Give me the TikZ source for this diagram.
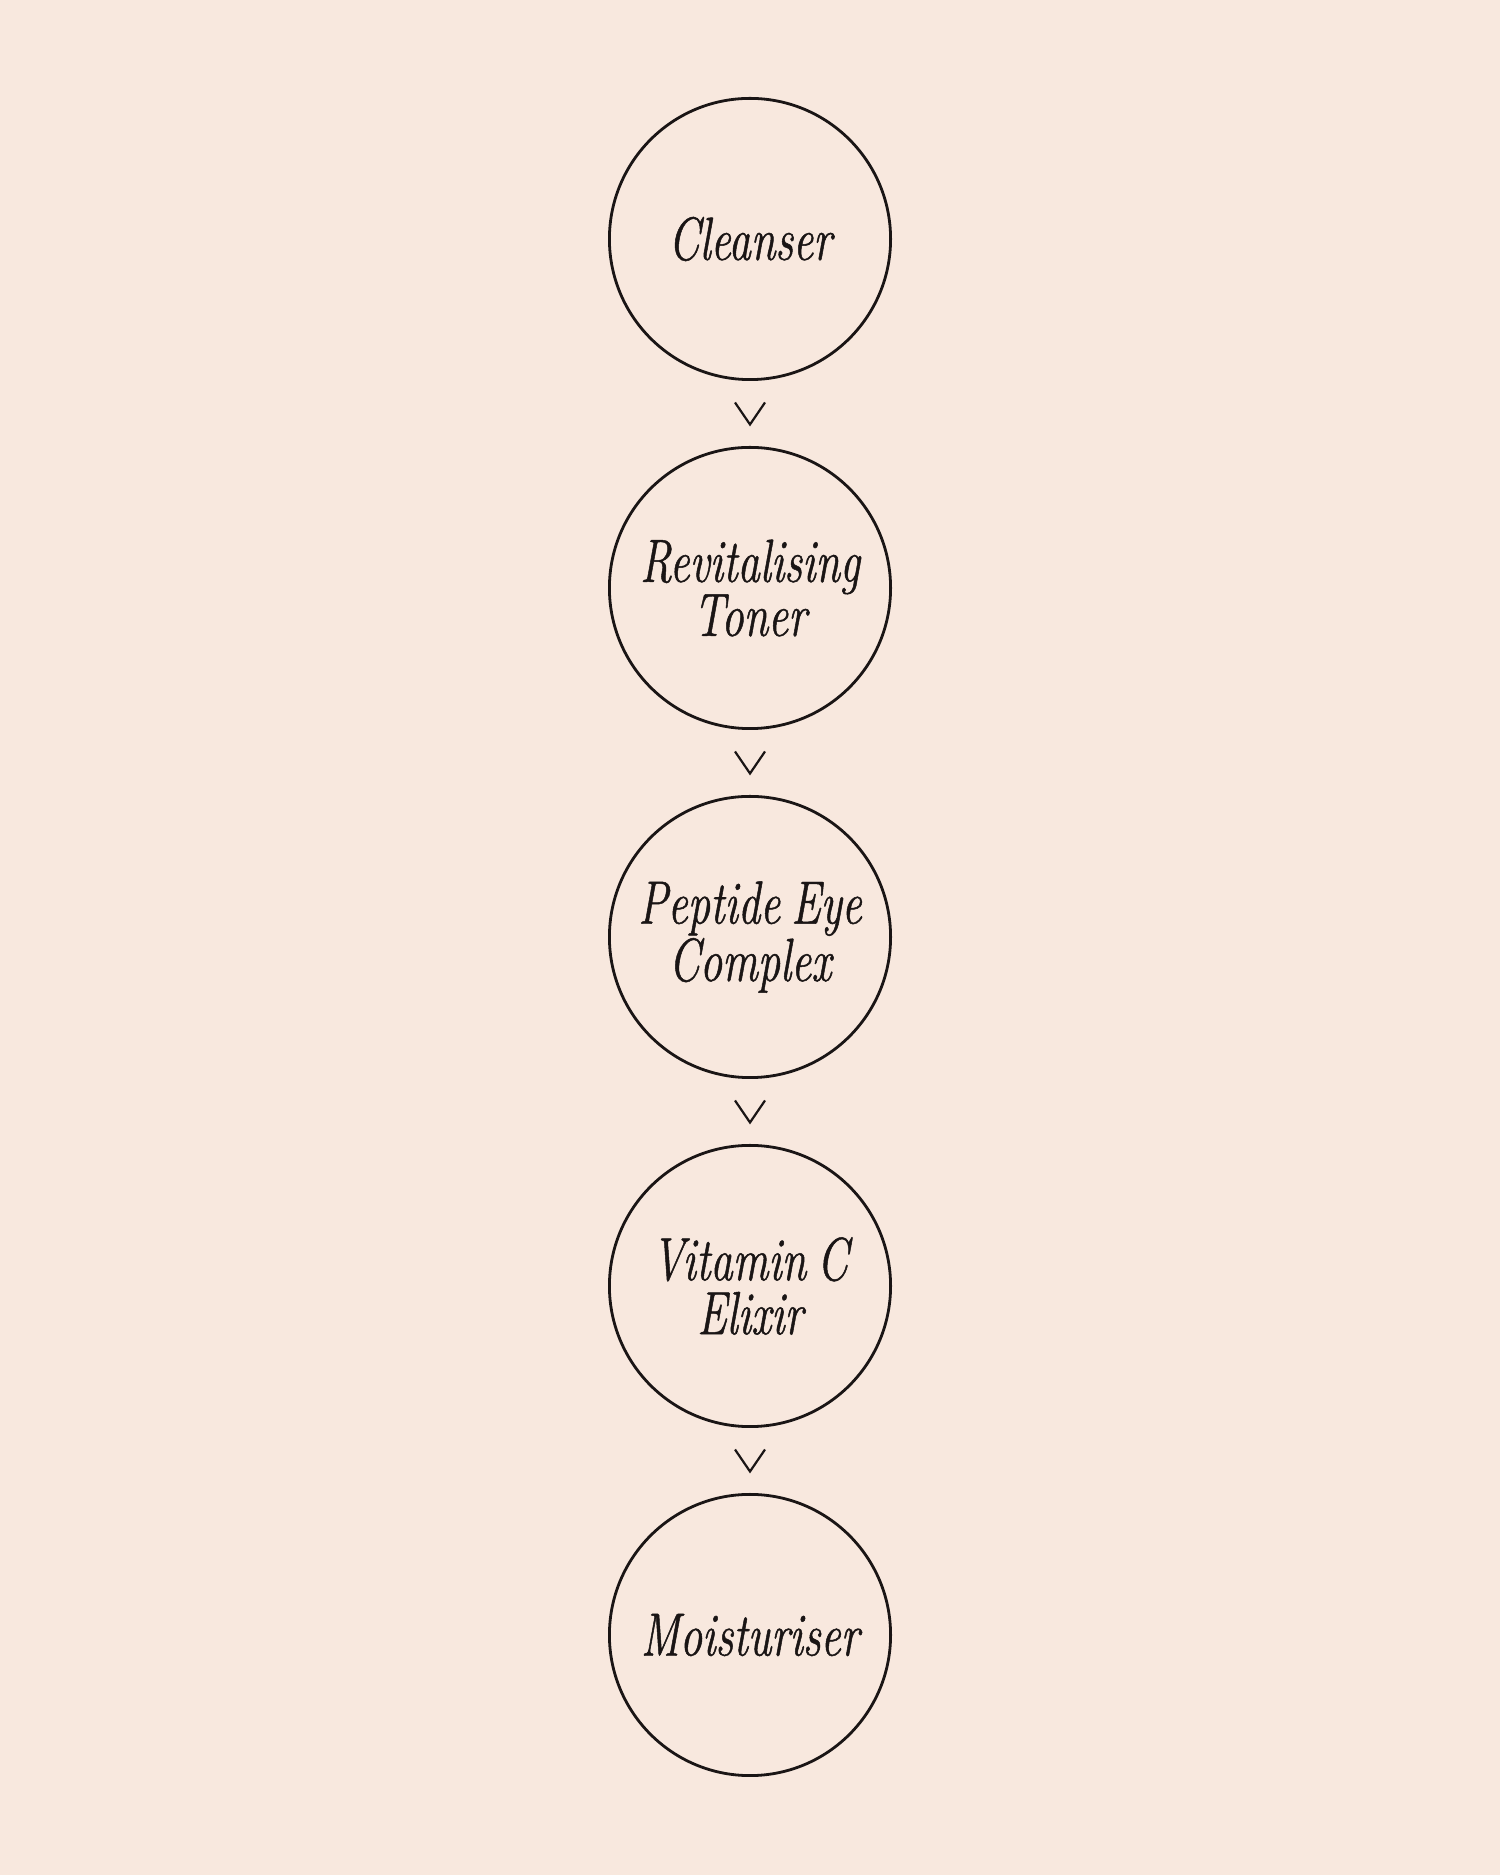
\documentclass[tikz,border=0pt]{standalone}
\usepackage{fontspec}
\newfontfamily\dispfont{Latin Modern Roman}[FakeStretch=0.73, FakeBold=0.8, WordSpace=0.7]
\usetikzlibrary{calc}
\definecolor{bg}{HTML}{F8E8DE}
\definecolor{ink}{HTML}{1A1515}
\tikzset{
  stepcircle/.style={circle, draw=ink, line width=1.4pt, minimum size=140.6pt, inner sep=0pt,
    align=center, text=ink, font=\dispfont\itshape\fontsize{30.5pt}{27pt}\selectfont},
  chevron/.style={draw=ink, line width=1.1pt, line join=miter}
}
\begin{document}
\begin{tikzpicture}[x=1pt,y=1pt]
\fill[bg] (0,0) rectangle (750,937.5);
\useasboundingbox (0,0) rectangle (750,937.5);
\node[stepcircle] (c1) at (375,818) {Cleanser};
\node[stepcircle] (c2) at (375,643.5) {Revitalising\\Toner};
\node[stepcircle] (c3) at (375,469) {Peptide Eye\\Complex};
\node[stepcircle] (c4) at (375,294.5) {Vitamin C\\Elixir};
\node[stepcircle] (c5) at (375,120) {Moisturiser};
\foreach \a/\b [count=\i] in {c1/c2,c2/c3,c3/c4,c4/c5}{
  \coordinate (m\i) at ($(\a.south)!0.5!(\b.north)$);
  \draw[chevron] ($(m\i)+(-7.5,5.5)$) -- ($(m\i)+(0,-5.5)$) -- ($(m\i)+(7.5,5.5)$);
}
\end{tikzpicture}
\end{document}
